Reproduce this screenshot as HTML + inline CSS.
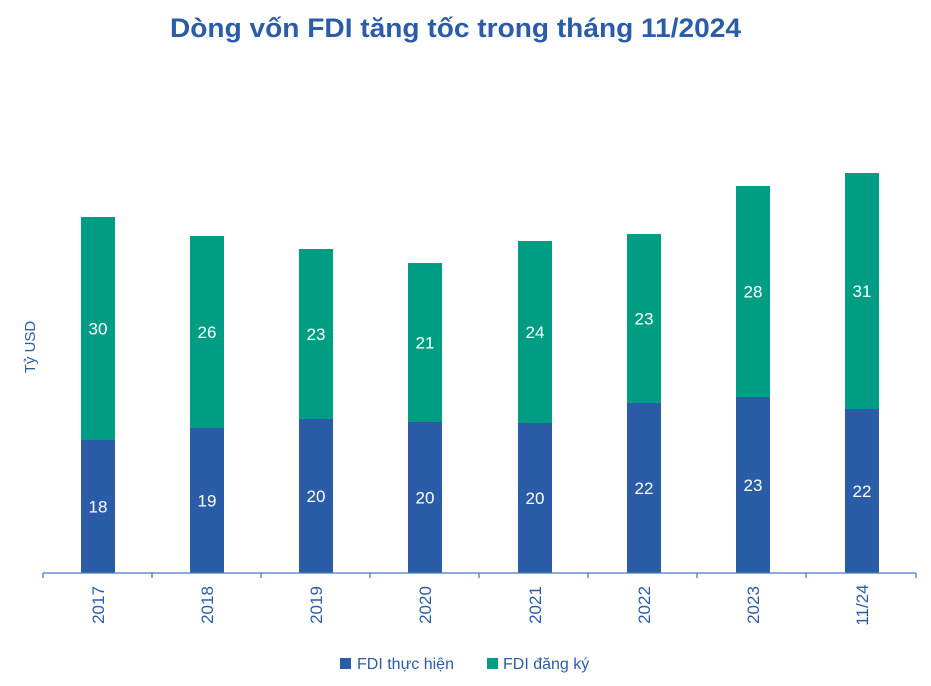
<!DOCTYPE html>
<html><head><meta charset="utf-8"><style>body{margin:0;background:#fff}svg{display:block}</style></head><body>
<svg width="931" height="686" xmlns="http://www.w3.org/2000/svg" font-family="'Liberation Sans', sans-serif">
<text x="455.5" y="37" text-anchor="middle" font-size="27" font-weight="bold" fill="#2b5ca8" textLength="571" lengthAdjust="spacingAndGlyphs">Dòng vốn FDI tăng tốc trong tháng 11/2024</text>
<text transform="translate(35,347) rotate(-90)" text-anchor="middle" font-size="15" fill="#2b5ca8">Tỷ USD</text>
<g fill="#009d85">
<rect x="81" y="217" width="34" height="223"/>
<rect x="190" y="236" width="34" height="192"/>
<rect x="299" y="249" width="34" height="170"/>
<rect x="408" y="263" width="34" height="159"/>
<rect x="518" y="241" width="34" height="182"/>
<rect x="627" y="234" width="34" height="169"/>
<rect x="736" y="186" width="34" height="211"/>
<rect x="845" y="173" width="34" height="236"/>
</g>
<g fill="#2b5ca8">
<rect x="81" y="440" width="34" height="133"/>
<rect x="190" y="428" width="34" height="145"/>
<rect x="299" y="419" width="34" height="154"/>
<rect x="408" y="422" width="34" height="151"/>
<rect x="518" y="423" width="34" height="150"/>
<rect x="627" y="403" width="34" height="170"/>
<rect x="736" y="397" width="34" height="176"/>
<rect x="845" y="409" width="34" height="164"/>
</g>
<g fill="#fff" font-size="17" text-anchor="middle">
<text x="98" y="334.5">30</text><text x="98" y="512.5">18</text>
<text x="207" y="338">26</text><text x="207" y="506.5">19</text>
<text x="316" y="340">23</text><text x="316" y="502">20</text>
<text x="425" y="348.5">21</text><text x="425" y="503.5">20</text>
<text x="535" y="338">24</text><text x="535" y="504">20</text>
<text x="644" y="324.5">23</text><text x="644" y="494">22</text>
<text x="753" y="297.5">28</text><text x="753" y="491">23</text>
<text x="862" y="297">31</text><text x="862" y="497">22</text>
</g>
<line x1="43" y1="573" x2="916" y2="573" stroke="#4a78c0" stroke-width="1.3"/>
<g stroke="#4a78c0" stroke-width="1.3">
<line x1="43" y1="573" x2="43" y2="578"/><line x1="152" y1="573" x2="152" y2="578"/><line x1="261" y1="573" x2="261" y2="578"/><line x1="370" y1="573" x2="370" y2="578"/><line x1="479" y1="573" x2="479" y2="578"/><line x1="588" y1="573" x2="588" y2="578"/><line x1="697" y1="573" x2="697" y2="578"/><line x1="806" y1="573" x2="806" y2="578"/><line x1="916" y1="573" x2="916" y2="578"/>
</g>
<g fill="#2b5ca8" font-size="17" text-anchor="middle">
<text transform="translate(104,605) rotate(-90)">2017</text>
<text transform="translate(213,605) rotate(-90)">2018</text>
<text transform="translate(322,605) rotate(-90)">2019</text>
<text transform="translate(431,605) rotate(-90)">2020</text>
<text transform="translate(541,605) rotate(-90)">2021</text>
<text transform="translate(650,605) rotate(-90)">2022</text>
<text transform="translate(759,605) rotate(-90)">2023</text>
<text transform="translate(868,605) rotate(-90)">11/24</text>
</g>
<rect x="340" y="658" width="11" height="11" fill="#2b5ca8"/>
<text x="357" y="669" font-size="16" fill="#2b5ca8">FDI thực hiện</text>
<rect x="487" y="658" width="11" height="11" fill="#009d85"/>
<text x="503" y="669" font-size="16" fill="#2b5ca8">FDI đăng ký</text>
</svg>
</body></html>
